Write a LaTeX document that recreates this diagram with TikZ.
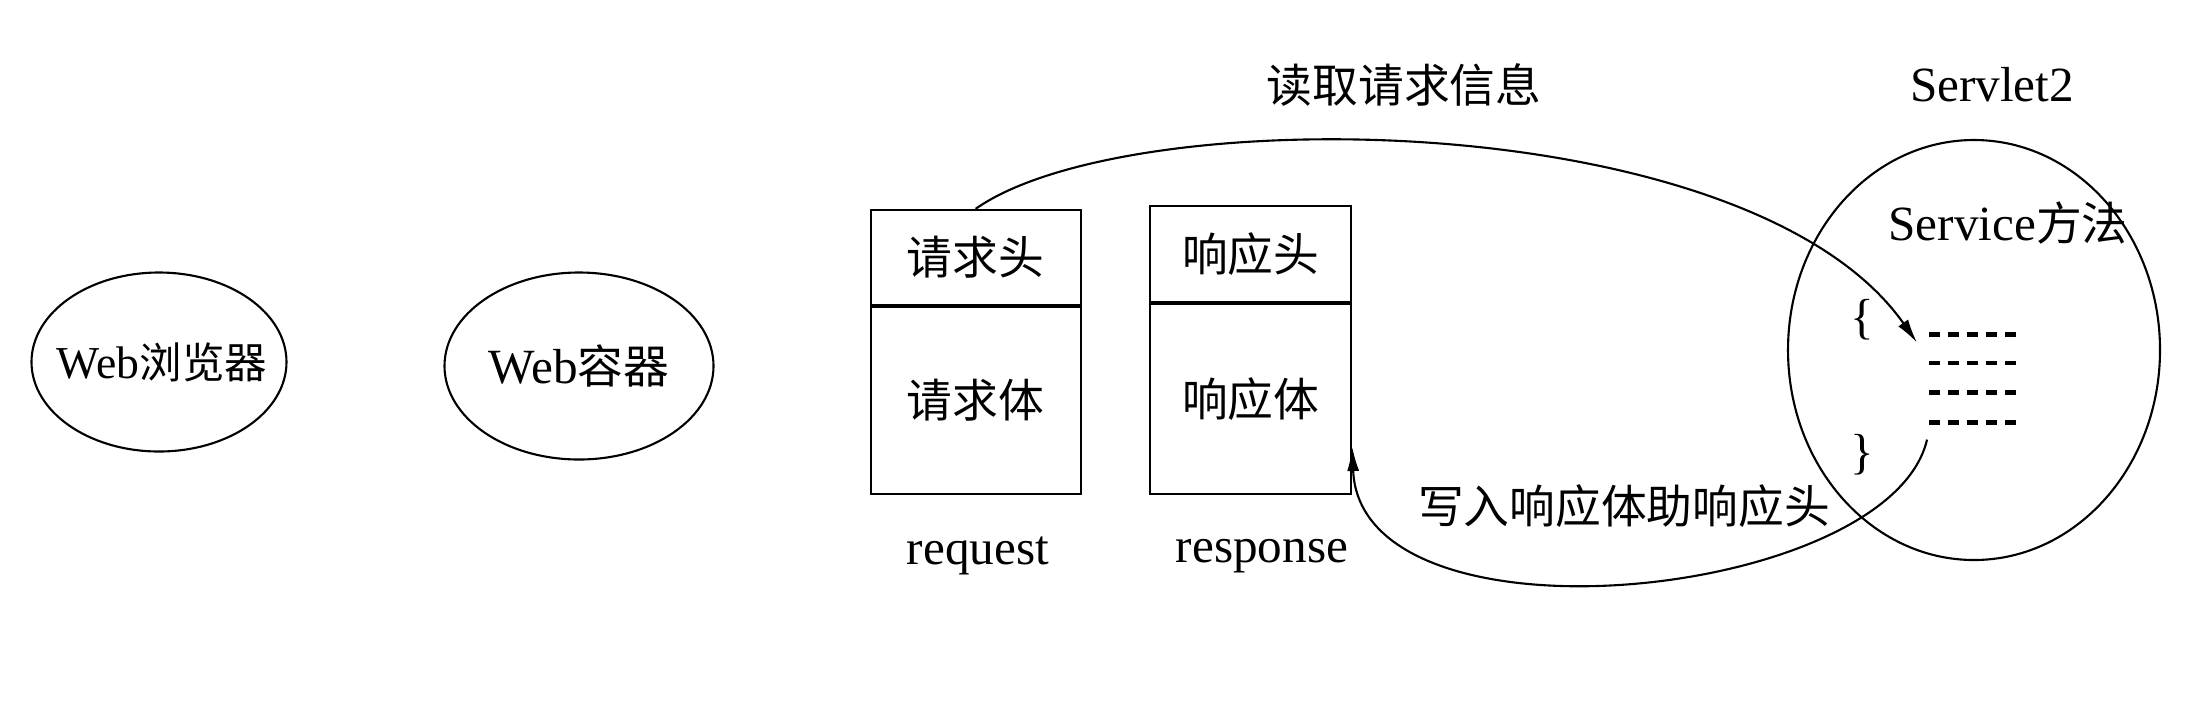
\documentclass[tikz,border=0pt]{standalone}
\usepackage{fontspec}
\setmainfont{Liberation Serif}
\newfontfamily\cjk{Noto Sans CJK SC}[Scale=0.93]
\usetikzlibrary{arrows.meta,shapes.geometric,positioning,calc}

\tikzset{
  endpoint/.style={draw,ellipse,line width=0.6pt,inner sep=0pt},
  part/.style={draw,rectangle,line width=0.6pt,inner sep=0pt},
  lbl/.style={font=\fontsize{14}{16}\selectfont},
  flow/.style={line width=0.6pt,-{Latex[length=0.24cm,width=0.12cm]}},
  codeline/.style={line width=1.4pt,dash pattern=on 0.11cm off 0.08cm},
}

\begin{document}
\begin{tikzpicture}[lbl]
\useasboundingbox (0,0) rectangle (22.12,7);
% browser and container
\node[endpoint,minimum width=2.55cm,minimum height=1.79cm,label={[xshift=0.03cm,font=\fontsize{13}{15}\selectfont]center:Web{\cjk 浏览器}}] (browser) at (1.59,3.38) {};
\node[endpoint,minimum width=2.69cm,minimum height=1.87cm,label=center:Web{\cjk 容器}] (container) at (5.79,3.34) {};
% request and response objects
\node[part,minimum width=2.1cm,minimum height=0.95cm] (reqhead) at (9.756,4.426) {\cjk 请求头};
\node[part,minimum width=2.1cm,minimum height=1.87cm,below=0pt of reqhead] (reqbody) {\cjk 请求体};
\node[part,minimum width=2.01cm,minimum height=0.96cm] (resphead) at (12.507,4.462) {\cjk 响应头};
\node[part,minimum width=2.01cm,minimum height=1.90cm,below=0pt of resphead] (respbody) {\cjk 响应体};
\node (reqname) at (9.78,1.44) {request};
\node (respname) at (12.62,1.44) {response};
% servlet
\node[endpoint,minimum width=3.72cm,minimum height=4.2cm] (servlet) at (19.74,3.50) {};
\node (servletname) at (19.92,6.15) {Servlet2};
\node (service) at (20.08,4.77) {Service{\cjk 方法}};
\node (lbrace) at (18.62,3.80) {\{};
\node (rbrace) at (18.62,2.45) {\}};
\foreach \i/\y in {1/3.654,2/3.37,3/3.072,4/2.774}{
  \coordinate (d\i) at (19.29,\y);
  \draw[codeline] (d\i) -- ++(0.92,0);
}
% read and write
\coordinate (rtip) at ($(d1)+(-0.12,-0.08)$);
\coordinate (wstart) at ($(d4)+(-0.02,-0.17)$);
\coordinate (wtip) at ($(respbody.south east)+(0,0.48)$);
\draw[flow] (reqhead.north) .. controls (11.3,6.0) and (17.5,5.95) .. (rtip);
\draw[flow] (wstart) .. controls (18.9,1.0) and (13.6,0.45) .. (wtip);
\node (readlbl) at (14.04,6.15) {\cjk 读取请求信息};
\node (writelbl) at (16.24,1.94) {\cjk 写入响应体助响应头};
\end{tikzpicture}
\end{document}
